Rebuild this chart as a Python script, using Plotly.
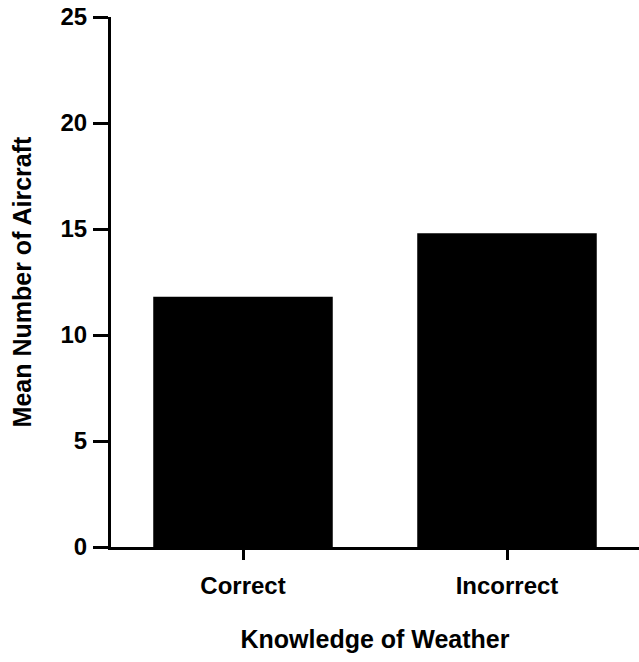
import plotly.graph_objects as go

categories = ["Correct", "Incorrect"]
mean_aircraft = [11.8, 14.8]
y_ticks = [0, 5, 10, 15, 20, 25]

FONT = "Liberation Sans, Arial, sans-serif"

fig = go.Figure()
fig.add_trace(go.Bar(
    x=categories,
    y=mean_aircraft,
    width=0.68,
    marker=dict(color="black", line=dict(width=0)),
))

fig.update_layout(
    width=639,
    height=662,
    margin=dict(l=111, r=0, t=17, b=115),
    paper_bgcolor="white",
    plot_bgcolor="white",
    showlegend=False,
    font=dict(family=FONT, color="black", size=24),
)

fig.update_xaxes(
    range=[-0.5, 1.5],
    showline=True, linecolor="black", linewidth=3,
    ticks="outside", ticklen=10, tickwidth=3, tickcolor="black",
    showgrid=False, zeroline=False,
    tickfont=dict(family=FONT, size=24, weight="bold"),
    ticklabelstandoff=5,
    title=dict(text="Knowledge of Weather", standoff=33,
               font=dict(family=FONT, size=25, weight="bold")),
)

fig.update_yaxes(
    range=[0, 25],
    tickvals=y_ticks,
    showline=True, linecolor="black", linewidth=3,
    ticks="outside", ticklen=15, tickwidth=3, tickcolor="black",
    showgrid=False, zeroline=False,
    tickfont=dict(family=FONT, size=24, weight="bold"),
    ticklabelstandoff=1,
    title=dict(text="Mean Number of Aircraft", standoff=22,
               font=dict(family=FONT, size=25, weight="bold")),
)

fig.write_html("out.html", config={"displayModeBar": False},
               post_script="document.body.style.margin='0';")
